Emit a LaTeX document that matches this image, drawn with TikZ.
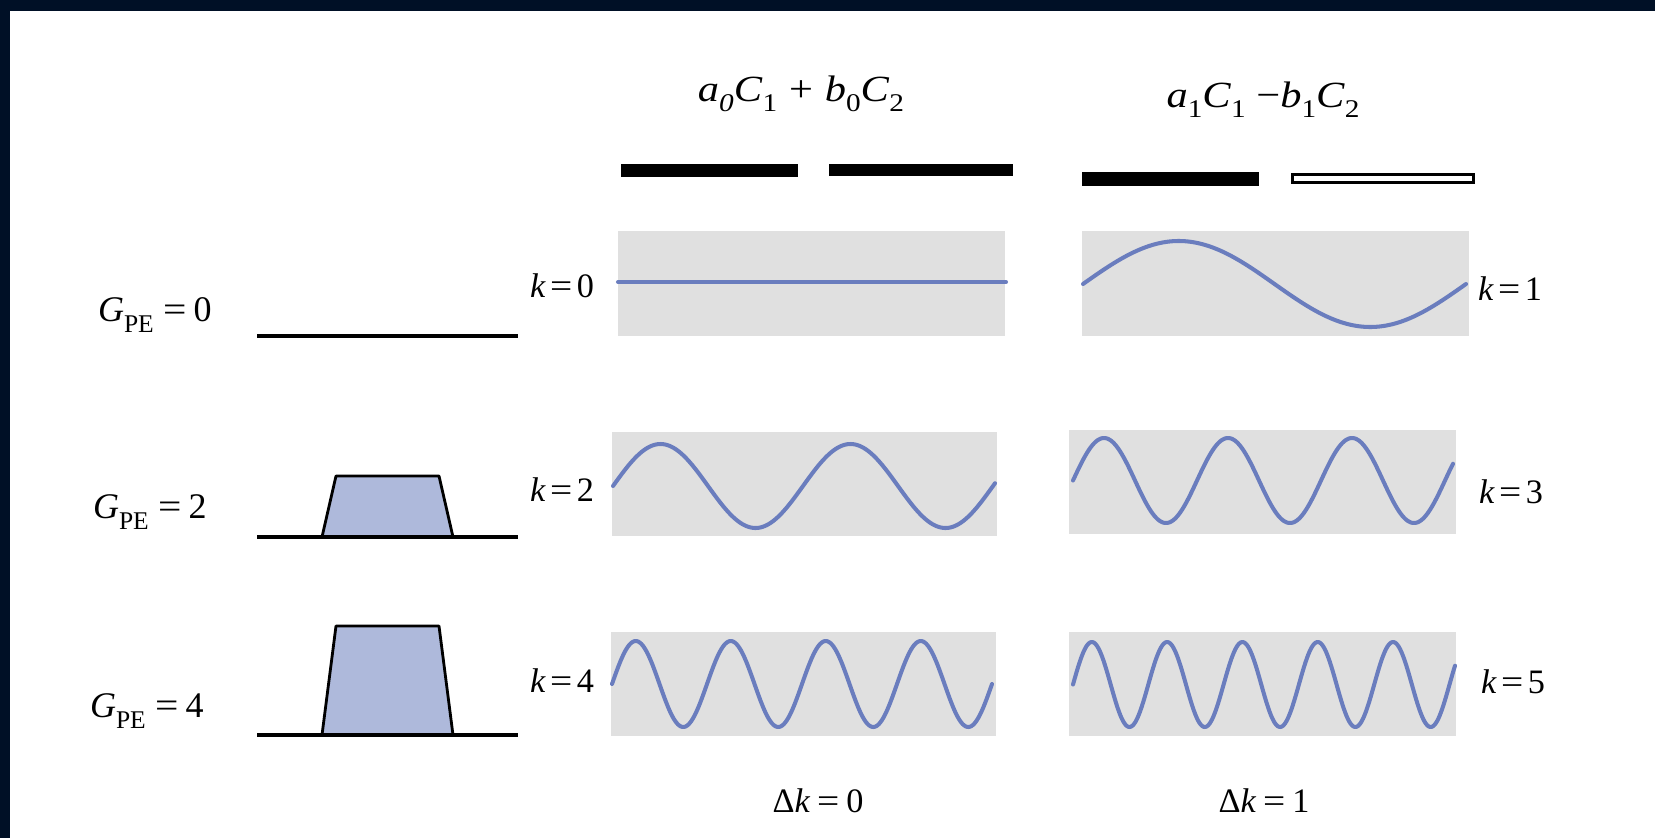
\documentclass[tikz,border=0pt]{standalone}
\usepackage{fontspec}
\setmainfont{Liberation Serif}
\definecolor{navy}{HTML}{001026}
\definecolor{panelgray}{HTML}{E0E0E0}
\definecolor{wavec}{HTML}{6A7DBE}
\definecolor{trapfill}{HTML}{AEB9DB}
\newcommand\mysub[1]{\raisebox{-0.32em}{\fontsize{14.5}{14.5}\selectfont #1}\hspace{0.06em}}
\newcommand\hsub[1]{\raisebox{-0.27em}{\fontsize{14.5}{14.5}\selectfont #1}}
\newcommand\myeq{\hspace{0.13em}\scalebox{1.15}[1]{=}\hspace{0.13em}}
\newcommand\wideq{\hspace{0.2em}\scalebox{1.15}[1]{=}\hspace{0.2em}}
\newcommand\wide[1]{\scalebox{1.15}[1]{#1}}
\begin{document}
\begin{tikzpicture}[x=0.02cm,y=-0.02cm,
  lbl/.style={inner sep=0,outer sep=0,font=\fontsize{19.5}{23}\selectfont},
  glbl/.style={inner sep=0,outer sep=0,font=\fontsize{20.5}{24}\selectfont},
  hdr/.style={inner sep=0,outer sep=0,font=\fontsize{21}{25}\selectfont},
  panel/.style={fill=panelgray},
  wave/.style={draw=wavec,line width=2.3pt,line cap=round,line join=round},
  ground/.style={line width=1.9pt},
  trap/.style={fill=trapfill,draw=black,line width=1.6pt,line join=round},
  bar/.style={fill=black}]
\useasboundingbox (0,0) rectangle (1655,838);
\fill[white] (0,0) rectangle (1655,838);
\fill[navy] (0,0) rectangle (1655,11);
\fill[navy] (0,0) rectangle (10,838);

% headers
\node[hdr,anchor=base] (hA) at (801,102) {\wide{\textit{a}\hsub{\textit{0}}\textit{C}\hsub{1}\hspace{0.28em}+\hspace{0.28em}\textit{b}\hsub{0}\textit{C}\hsub{2}}};
\node[hdr,anchor=base] (hB) at (1263,108) {\wide{\textit{a}\hsub{1}\textit{C}\hsub{1}\hspace{0.25em}−\textit{b}\hsub{1}\textit{C}\hsub{2}}};

% bars
\path[bar] (621,164) rectangle (798,177);
\path[bar] (829,164) rectangle (1013,176);
\path[bar] (1082,172) rectangle (1259,186);
\draw[line width=1.7pt,fill=white] (1292.5,174.5) rectangle (1473.5,182.5);

% panels
\path[panel] (618,231) rectangle (1005,336);
\path[panel] (1082,231) rectangle (1469,336);
\path[panel] (612,432) rectangle (997,536);
\path[panel] (1069,430) rectangle (1456,534);
\path[panel] (611,632) rectangle (996,736);
\path[panel] (1069,632) rectangle (1456,736);

% waves
\draw[wave] (618,282) -- (1006,282);
\draw[wave] plot[domain=1083:1466,samples=160,smooth] (\x,{284-43*sin(((\x-1083)/383)*360)});
\draw[wave] plot[domain=613:995,samples=200,smooth] (\x,{486-42*sin(((\x-613)/190)*360)});
\draw[wave] plot[domain=1073:1453,samples=240,smooth] (\x,{480.5-42.5*sin(((\x-1073)/124)*360)});
\draw[wave] plot[domain=612:992,samples=260,smooth] (\x,{684-43*sin(((\x-612)/95)*360)});
\draw[wave] plot[domain=1073:1455,samples=300,smooth] (\x,{684.5-42.5*sin(((\x-1073)/75.3)*360)});

% k labels
\node[lbl,anchor=base west] (k0) at (530,297) {\textit{k}\myeq 0};
\node[lbl,anchor=base west] (k1) at (1478,300) {\textit{k}\myeq 1};
\node[lbl,anchor=base west] (k2) at (530,501) {\textit{k}\myeq 2};
\node[lbl,anchor=base west] (k3) at (1479,503) {\textit{k}\myeq 3};
\node[lbl,anchor=base west] (k4) at (530,692) {\textit{k}\myeq 4};
\node[lbl,anchor=base west] (k5) at (1481,693) {\textit{k}\myeq 5};

% left column
\filldraw[trap] (322,537) -- (336,476) -- (439,476) -- (453,537) -- cycle;
\filldraw[trap] (322,735) -- (336,626) -- (439,626) -- (453,735) -- cycle;
\draw[ground] (257,336) -- (518,336);
\draw[ground] (257,537) -- (518,537);
\draw[ground] (257,735) -- (518,735);

\node[glbl,anchor=base west] (g0) at (98,321) {\textit{G}\mysub{PE}\wideq 0};
\node[glbl,anchor=base west] (g2) at (93,518) {\textit{G}\mysub{PE}\wideq 2};
\node[glbl,anchor=base west] (g4) at (90,717) {\textit{G}\mysub{PE}\wideq 4};

% bottom labels
\node[lbl,anchor=base] (d0) at (818,812) {Δ\textit{k}\wideq 0};
\node[lbl,anchor=base] (d1) at (1264,812) {Δ\textit{k}\wideq 1};
\end{tikzpicture}
\end{document}
